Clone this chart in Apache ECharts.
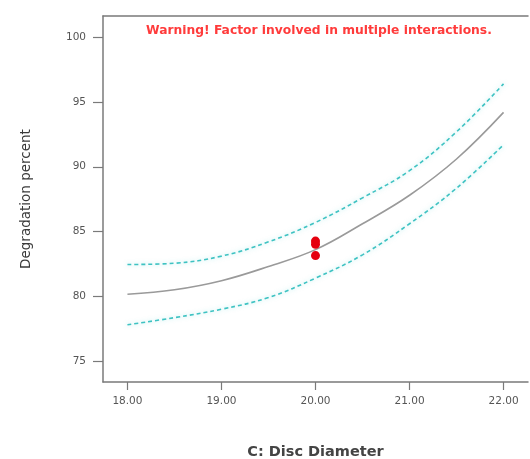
<!DOCTYPE html>
<html>
<head>
<meta charset="utf-8">
<script src="https://cdn.jsdelivr.net/npm/echarts@6/dist/echarts.min.js"></script>
<style>
  html, body { margin: 0; padding: 0; background: #ffffff; }
  #chart { width: 530px; height: 459px; }
</style>
</head>
<body>
<div id="chart"></div>
<script>
// Disc diameter settings (factor C)
const diameters = [18, 18.5, 19, 19.5, 20, 20.5, 21, 21.5, 22];
// Predicted degradation and its 95% confidence band
const predicted = [80.15, 80.5, 81.2, 82.3, 83.6, 85.6, 87.8, 90.6, 94.2];
const upperBand = [82.45, 82.55, 83.1, 84.2, 85.7, 87.6, 89.7, 92.7, 96.4];
const lowerBand = [77.8, 78.35, 79.0, 79.9, 81.4, 83.2, 85.6, 88.35, 91.7];
// Observed design points
const obsX = [20, 20, 20];
const obsY = [84.26, 84.02, 83.14];
// Axis ticks
const xTicks = [18, 19, 20, 21, 22];
const yTicks = [75, 80, 85, 90, 95, 100];

const pairs = (xs, ys) => xs.map((x, i) => [x, ys[i]]);

const chart = echarts.init(document.getElementById('chart'), null, { renderer: 'canvas' });

const font = '"DejaVu Sans", Verdana, sans-serif';
const axisGray = '#7a7a7a';
const bandColor = '#3ec2c2';

const bandStyle = {
  color: bandColor,
  width: 1.6,
  type: [4, 3],
  shadowColor: 'rgba(90, 215, 215, 0.5)',
  shadowBlur: 4
};

chart.setOption({
  backgroundColor: '#ffffff',
  animation: false,
  textStyle: { fontFamily: font },
  grid: { left: 103, top: 16, right: 2, bottom: 77, containLabel: false, outerBoundsMode: 'none' },
  xAxis: [{
    type: 'value',
    min: 17.74,
    max: 22.26,
    name: 'C: Disc Diameter',
    nameLocation: 'middle',
    nameGap: 63,
    nameTextStyle: { color: '#444', fontSize: 14.5, fontWeight: 'bold', fontFamily: font },
    axisLine: { show: true, lineStyle: { color: axisGray, width: 1.5 } },
    axisTick: { show: true, length: 8, lineStyle: { color: axisGray, width: 1.2 }, customValues: xTicks },
    axisLabel: {
      customValues: xTicks,
      formatter: v => v.toFixed(2),
      color: '#555', fontSize: 10.5, margin: 14, fontFamily: font
    },
    splitLine: { show: false }
  }, {
    type: 'value',
    position: 'top',
    min: 17.74,
    max: 22.26,
    axisLine: { show: true, lineStyle: { color: axisGray, width: 1.5 } },
    axisTick: { show: false },
    axisLabel: { show: false },
    splitLine: { show: false }
  }],
  yAxis: {
    type: 'value',
    min: 73.38,
    max: 101.64,
    name: 'Degradation percent',
    nameLocation: 'middle',
    nameGap: 70,
    nameRotate: 90,
    nameTextStyle: { color: '#3a3a3a', fontSize: 13.5, fontFamily: font },
    axisLine: { show: true, lineStyle: { color: axisGray, width: 1.5 } },
    axisTick: { show: true, length: 10, lineStyle: { color: axisGray, width: 1.2 }, customValues: yTicks },
    axisLabel: { customValues: yTicks, color: '#555', fontSize: 10.5, margin: 17, fontFamily: font },
    splitLine: { show: false }
  },
  graphic: [{
    type: 'text',
    left: 146,
    top: 25,
    style: {
      text: 'Warning! Factor involved in multiple interactions.',
      fill: '#ff3b3b',
      font: 'bold 12.3px "DejaVu Sans", Verdana, sans-serif'
    }
  }],
  series: [
    {
      type: 'line', data: pairs(diameters, upperBand), smooth: 0.4,
      symbol: 'none', lineStyle: bandStyle, z: 2
    },
    {
      type: 'line', data: pairs(diameters, lowerBand), smooth: 0.4,
      symbol: 'none', lineStyle: bandStyle, z: 2
    },
    {
      type: 'line', data: pairs(diameters, predicted), smooth: 0.4,
      symbol: 'none', lineStyle: { color: '#9a9a9a', width: 1.6 }, z: 3
    },
    {
      type: 'scatter', data: pairs(obsX, obsY),
      symbol: 'circle', symbolSize: 9,
      itemStyle: { color: '#e5000f', opacity: 1 }, z: 5
    }
  ]
});
</script>
</body>
</html>
